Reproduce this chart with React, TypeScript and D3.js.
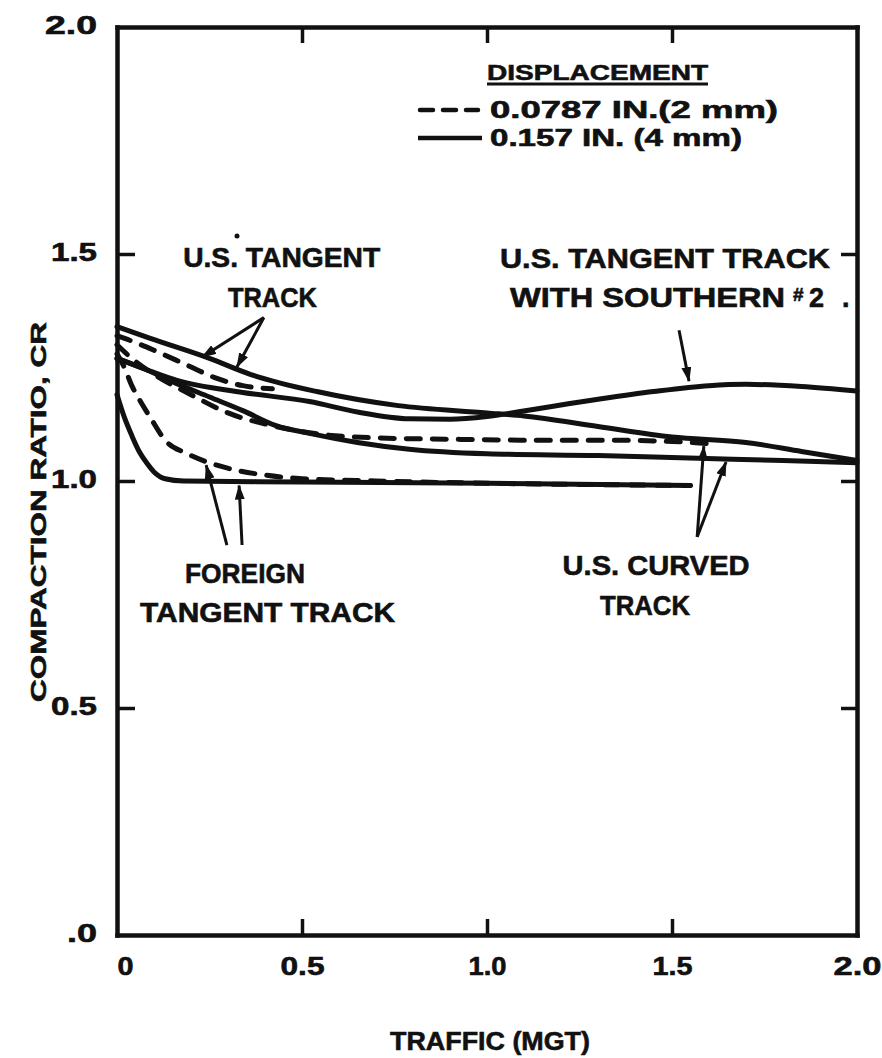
import React, { useEffect, useRef } from 'react';
import * as d3 from 'd3';

// compaction ratio vs traffic
// U.S. tangent track
const usTangentSolidX = [0, 0.09, 0.25, 0.36, 0.54, 0.76, 1.0, 1.1, 1.3, 1.5, 1.7, 1.85, 2.0];
const usTangentSolidY = [1.34, 1.314, 1.27, 1.235, 1.197, 1.166, 1.15, 1.143, 1.12, 1.097, 1.085, 1.065, 1.045];
const usTangentDashedX = [0, 0.05, 0.1, 0.19, 0.27, 0.34, 0.42];
const usTangentDashedY = [1.32, 1.305, 1.288, 1.255, 1.226, 1.21, 1.203];
// U.S. tangent track with southern #2
const southernX = [0, 0.08, 0.16, 0.34, 0.52, 0.65, 0.79, 0.9, 1.0, 1.09, 1.3, 1.45, 1.6, 1.7, 1.85, 2.0];
const southernY = [1.27, 1.245, 1.222, 1.195, 1.175, 1.152, 1.137, 1.136, 1.142, 1.153, 1.18, 1.197, 1.21, 1.213, 1.208, 1.198];
// U.S. curved track
const usCurvedSolidX = [0, 0.08, 0.16, 0.25, 0.34, 0.43, 0.52, 0.65, 0.79, 1.0, 1.3, 1.57, 1.8, 2.0];
const usCurvedSolidY = [1.27, 1.245, 1.215, 1.185, 1.155, 1.122, 1.105, 1.085, 1.07, 1.06, 1.056, 1.05, 1.045, 1.04];
const usCurvedDashedX = [0, 0.04, 0.1, 0.2, 0.3, 0.43, 0.55, 0.7, 0.9, 1.1, 1.3, 1.5, 1.6];
const usCurvedDashedY = [1.3, 1.27, 1.235, 1.19, 1.15, 1.12, 1.103, 1.095, 1.092, 1.09, 1.09, 1.087, 1.082];
// foreign tangent track
const foreignSolidX = [0, 0.02, 0.04, 0.06, 0.08, 0.1, 0.13, 0.18, 0.5, 1.0, 1.55];
const foreignSolidY = [1.19, 1.14, 1.1, 1.065, 1.04, 1.02, 1.005, 1.0, 0.998, 0.995, 0.99];
const foreignDashedX = [0, 0.02, 0.04, 0.06, 0.09, 0.13, 0.19, 0.25, 0.31, 0.4, 0.5, 0.7, 1.0, 1.3, 1.55];
const foreignDashedY = [1.28, 1.25, 1.21, 1.18, 1.14, 1.09, 1.06, 1.04, 1.026, 1.013, 1.005, 1.0, 0.995, 0.992, 0.99];

const xTicks = [0, 0.5, 1.0, 1.5, 2.0];
const xTickLabels = ['0', '0.5', '1.0', '1.5', '2.0'];
const yTicks = [0, 0.5, 1.0, 1.5, 2.0];
const yTickLabels = ['.0', '0.5', '1.0', '1.5', '2.0'];

const series = [
  { name: 'usTangentSolid', xs: usTangentSolidX, ys: usTangentSolidY, dashed: false },
  { name: 'usTangentDashed', xs: usTangentDashedX, ys: usTangentDashedY, dashed: true },
  { name: 'southern', xs: southernX, ys: southernY, dashed: false },
  { name: 'usCurvedSolid', xs: usCurvedSolidX, ys: usCurvedSolidY, dashed: false },
  { name: 'usCurvedDashed', xs: usCurvedDashedX, ys: usCurvedDashedY, dashed: true },
  { name: 'foreignSolid', xs: foreignSolidX, ys: foreignSolidY, dashed: false },
  { name: 'foreignDashed', xs: foreignDashedX, ys: foreignDashedY, dashed: true },
];

// in-plot labels, in data units
const labels = [
  { text: 'U.S. TANGENT', x: 0.445, y: 1.471, len: 197 },
  { text: 'TRACK', x: 0.42, y: 1.383, len: 89 },
  { text: 'U.S. TANGENT  TRACK', x: 1.481, y: 1.469, len: 330 },
  { text: 'WITH  SOUTHERN', x: 1.434, y: 1.383, len: 275 },
  { text: 'FOREIGN', x: 0.346, y: 0.775, len: 120 },
  { text: 'TANGENT  TRACK', x: 0.407, y: 0.689, len: 255 },
  { text: 'U.S. CURVED', x: 1.457, y: 0.793, len: 187 },
  { text: 'TRACK', x: 1.427, y: 0.705, len: 90 },
];

const arrows = [
  { from: [0.397, 1.36], to: [0.23, 1.273] },
  { from: [0.397, 1.36], to: [0.324, 1.251] },
  { from: [1.519, 1.332], to: [1.546, 1.22] },
  { from: [0.297, 0.859], to: [0.241, 1.035] },
  { from: [0.338, 0.859], to: [0.33, 0.99] },
  { from: [1.568, 0.877], to: [1.586, 1.077] },
  { from: [1.568, 0.877], to: [1.646, 1.042] },
];

const INK = '#111';
const FONT = '"Liberation Sans", Arial, sans-serif';

export default function App() {
  const ref = useRef<SVGSVGElement>(null);

  useEffect(() => {
    const svg = d3.select(ref.current);
    svg.selectAll('*').remove();

    const x = d3.scaleLinear().domain([0, 2]).range([117, 857]);
    const y = d3.scaleLinear().domain([0, 2]).range([935, 27]);

    svg.append('defs')
      .append('marker')
      .attr('id', 'head')
      .attr('markerUnits', 'userSpaceOnUse')
      .attr('markerWidth', 16)
      .attr('markerHeight', 10)
      .attr('refX', 14)
      .attr('refY', 5)
      .attr('orient', 'auto')
      .append('path')
      .attr('d', 'M0,0 L15,5 L0,10 Z')
      .attr('fill', INK);

    // frame + ticks
    const axBottom = svg.append('g').attr('transform', `translate(0,${y(0)})`)
      .call(d3.axisBottom(x).tickValues(xTicks).tickSizeInner(-16).tickSizeOuter(0)
        .tickFormat((d, i) => xTickLabels[i]));
    const axTop = svg.append('g').attr('transform', `translate(0,${y(2)})`)
      .call(d3.axisTop(x).tickValues([0.5, 1, 1.5]).tickSizeInner(-16).tickSizeOuter(0).tickFormat(() => ''));
    const axLeft = svg.append('g').attr('transform', `translate(${x(0)},0)`)
      .call(d3.axisLeft(y).tickValues(yTicks).tickSizeInner(-18).tickSizeOuter(0)
        .tickFormat((d, i) => yTickLabels[i]));
    const axRight = svg.append('g').attr('transform', `translate(${x(2)},0)`)
      .call(d3.axisRight(y).tickValues([0.5, 1, 1.5]).tickSizeInner(-16).tickSizeOuter(0).tickFormat(() => ''));

    ;[axBottom, axTop, axLeft, axRight].forEach(ax => {
      ax.select('.domain').attr('stroke', INK).attr('stroke-width', 4.5).attr('stroke-linecap', 'square');
      ax.selectAll('.tick line').attr('stroke', INK).attr('stroke-width', 3.5);
      ax.selectAll('.tick text').attr('font-family', FONT).attr('font-weight', 'bold')
        .attr('font-size', 25).attr('fill', INK).attr('stroke', INK).attr('stroke-width', 0.6);
    });
    // ticks at the corners sit on the frame, drop them
    axBottom.selectAll('.tick').filter((d: any) => d === 0 || d === 2).select('line').remove();
    axLeft.selectAll('.tick').filter((d: any) => d === 0 || d === 2).select('line').remove();

    const xLens = [16, 44, 38, 40, 48];
    axBottom.selectAll('.tick text')
      .attr('y', 40).attr('dy', null)
      .attr('dx', (d: any) => (d === 0 ? 8 : 0))
      .attr('textLength', (d: any, i: number) => xLens[i])
      .attr('lengthAdjust', 'spacingAndGlyphs');
    const yLens = [30, 46, 46, 46, 52];
    axLeft.selectAll('.tick text')
      .attr('x', -20).attr('dy', '0.25em')
      .attr('textLength', (d: any, i: number) => yLens[i])
      .attr('lengthAdjust', 'spacingAndGlyphs');

    // curves
    const line = d3.line<[number, number]>()
      .x(d => x(d[0]))
      .y(d => y(d[1]))
      .curve(d3.curveMonotoneX);

    svg.append('g').selectAll('path')
      .data(series)
      .join('path')
      .attr('d', s => line(s.xs.map((v, i) => [v, s.ys[i]] as [number, number])))
      .attr('fill', 'none')
      .attr('stroke', INK)
      .attr('stroke-width', 5)
      .attr('stroke-linecap', 'round')
      .attr('stroke-linejoin', 'round')
      .attr('stroke-dasharray', s => (s.dashed ? '14 12' : null));

    // arrows
    svg.append('g').selectAll('line')
      .data(arrows)
      .join('line')
      .attr('x1', a => x(a.from[0]))
      .attr('y1', a => y(a.from[1]))
      .attr('x2', a => x(a.to[0]))
      .attr('y2', a => y(a.to[1]))
      .attr('stroke', INK)
      .attr('stroke-width', 3)
      .attr('marker-end', 'url(#head)');

    const txt = (g: any) => g
      .attr('font-family', FONT)
      .attr('font-weight', 'bold')
      .attr('fill', INK)
      .attr('stroke', INK)
      .attr('stroke-width', 0.6)
      .attr('lengthAdjust', 'spacingAndGlyphs');

    svg.append('g').selectAll('text')
      .data(labels)
      .join('text')
      .call(txt)
      .attr('x', l => x(l.x))
      .attr('y', l => y(l.y))
      .attr('text-anchor', 'middle')
      .attr('font-size', 27)
      .attr('textLength', l => l.len)
      .text(l => l.text);

    // "#2 ." after SOUTHERN
    svg.append('text').call(txt).attr('x', 793).attr('y', y(1.397)).attr('font-size', 19).text('#');
    svg.append('text').call(txt).attr('x', 809).attr('y', y(1.383)).attr('font-size', 27).text('2');
    svg.append('text').call(txt).attr('x', 842).attr('y', y(1.383)).attr('font-size', 27).text('.');
    svg.append('circle').attr('cx', 237).attr('cy', 236).attr('r', 2.5).attr('fill', INK);

    // legend
    const lg = svg.append('g');
    lg.append('text').call(txt).attr('x', 487).attr('y', 80).attr('font-size', 22)
      .attr('textLength', 221).text('DISPLACEMENT');
    lg.append('line').attr('x1', 487).attr('x2', 708).attr('y1', 84).attr('y2', 84)
      .attr('stroke', INK).attr('stroke-width', 3);
    lg.append('line').attr('x1', 420).attr('x2', 478).attr('y1', 110).attr('y2', 110)
      .attr('stroke', INK).attr('stroke-width', 4.5).attr('stroke-linecap', 'round')
      .attr('stroke-dasharray', '13 10');
    lg.append('text').call(txt).attr('x', 490).attr('y', 118).attr('font-size', 23)
      .attr('textLength', 288).text('0.0787 IN.(2 mm)');
    lg.append('line').attr('x1', 418).attr('x2', 482).attr('y1', 138).attr('y2', 138)
      .attr('stroke', INK).attr('stroke-width', 4.5);
    lg.append('text').call(txt).attr('x', 490).attr('y', 146).attr('font-size', 23)
      .attr('textLength', 252).text('0.157 IN. (4 mm)');

    // axis titles
    svg.append('text').call(txt).attr('x', 490).attr('y', 1050).attr('text-anchor', 'middle')
      .attr('font-size', 26).attr('textLength', 200).text('TRAFFIC  (MGT)');
    svg.append('text').call(txt).attr('transform', 'translate(46,512) rotate(-90)')
      .attr('text-anchor', 'middle').attr('font-size', 22).attr('textLength', 380)
      .text('COMPACTION  RATIO, CR');
  }, []);

  return (
    <svg ref={ref} width={882} height={1058}
      style={{ position: 'absolute', left: 0, top: 0, background: '#fff' }} />
  );
}
